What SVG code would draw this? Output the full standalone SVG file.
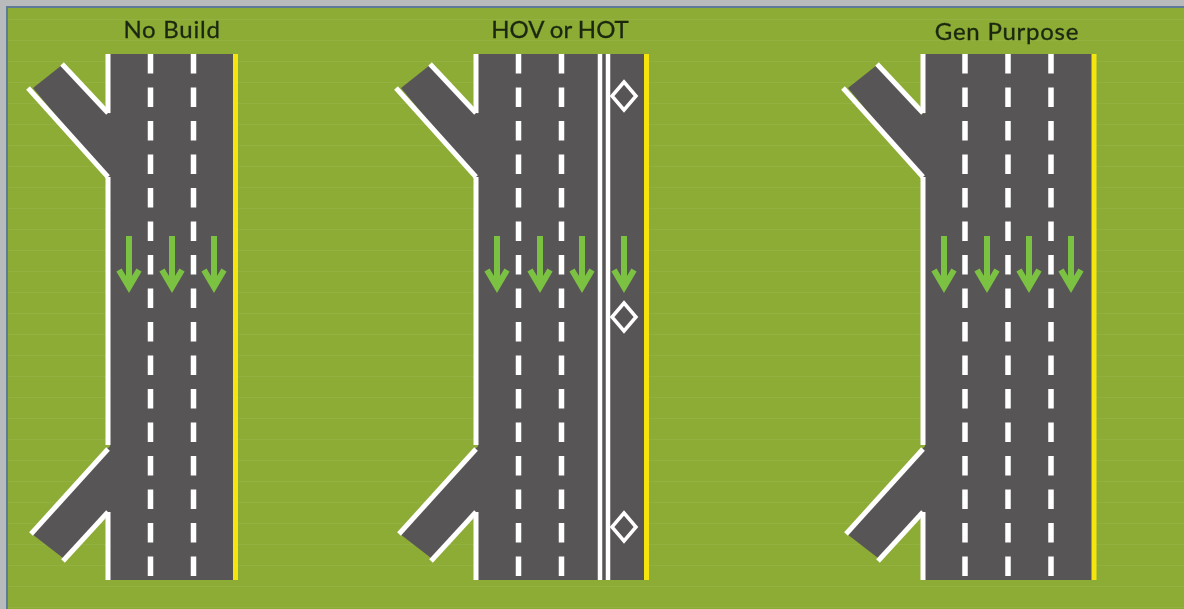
<svg xmlns="http://www.w3.org/2000/svg" width="1184" height="609" viewBox="0 0 1184 609">
<style>
.road{fill:#595557}
.wl{fill:none;stroke:#fff;stroke-width:5}
.yl{stroke:#f5e50f;stroke-width:5}
.dash{stroke:#fff;stroke-width:5.5;stroke-dasharray:19.5 14}
.arrow{fill:none;stroke:#7cc242;stroke-width:6}
.dia{fill:none;stroke:#fff;stroke-width:3.5}
.title{font-family:"Lato","Open Sans",sans-serif;font-size:24px;letter-spacing:.75px;fill:#1b2812;stroke:#1b2812;stroke-width:.3;text-anchor:middle}
</style>
<defs>
<filter id="soft" x="-2%" y="-2%" width="104%" height="104%"><feGaussianBlur stdDeviation="0.7"/></filter>
<pattern id="bands" width="21" height="21" patternUnits="userSpaceOnUse" y="19"><rect y="0" width="21" height="1" fill="#fff" fill-opacity="0.06"/></pattern>
<g id="arr"><path class="arrow" d="M0 236V288"/><path class="arrow" d="M-10 270L0 287L10 270"/></g>
<g id="ramps">
<polygon class="road" points="62,65 33,88 108,178 112,178 112,445 108,448 32,534 63,558 110,514 112,114 108,113"/>
<path class="wl" d="M62,64L108,113"/>
<path class="wl" d="M28,88L108,177"/>
<path class="wl" d="M108,449L31,534"/>
<path class="wl" d="M63,561L108,512"/>
</g>
</defs>
<rect width="1184" height="609" fill="#b9babc"/>
<rect x="6" y="6" width="1178" height="603" fill="#5d7a96"/>
<rect x="8" y="8" width="1176" height="601" fill="#8cac35"/>
<rect x="8" y="8" width="1176" height="601" fill="url(#bands)"/>
<g filter="url(#soft)">
<g id="no-build">
<text class="title" x="172" y="38">No Build</text>
<use href="#ramps"/>
<rect class="road" x="110" y="54" width="123" height="526"/>
<path class="wl" d="M108,54V113M108,177V445M108,512V580"/>
<path class="dash" d="M150.500 54V578M193.500 54V578"/>
<path class="yl" d="M235.500 54V580"/>
<use href="#arr" x="129"/><use href="#arr" x="172"/><use href="#arr" x="214"/>
</g>
<g id="hov-or-hot" transform="translate(368 0)">
<text class="title" x="192" y="38" style="letter-spacing:0">HOV or HOT</text>
<use href="#ramps"/>
<rect class="road" x="110" y="54" width="167" height="526"/>
<path class="wl" d="M108,54V113M108,177V445M108,512V580"/>
<path class="dash" d="M150.500 54V578M193.500 54V578"/>
<path d="M232 54V580M240 54V580" stroke="#fff" stroke-width="4.500"/>
<path class="yl" d="M278.500 54V580"/>
<use href="#arr" x="129"/><use href="#arr" x="172"/><use href="#arr" x="214"/><use href="#arr" x="256"/>
<path class="dia" d="M256 82L268 96L256 110L244 96Z"/>
<path class="dia" d="M256 303L268 317L256 331L244 317Z"/>
<path class="dia" d="M256 513L268 527L256 541L244 527Z"/>
</g>
<g id="gen-purpose" transform="translate(815 0)">
<text class="title" x="192" y="40">Gen Purpose</text>
<use href="#ramps"/>
<rect class="road" x="110" y="54" width="167" height="526"/>
<path class="wl" d="M108,54V113M108,177V445M108,512V580"/>
<path class="dash" d="M150 54V578M193 54V578M236 54V578"/>
<path class="yl" d="M279 54V580"/>
<use href="#arr" x="129"/><use href="#arr" x="172"/><use href="#arr" x="214"/><use href="#arr" x="256"/>
</g>
</g>
</svg>
